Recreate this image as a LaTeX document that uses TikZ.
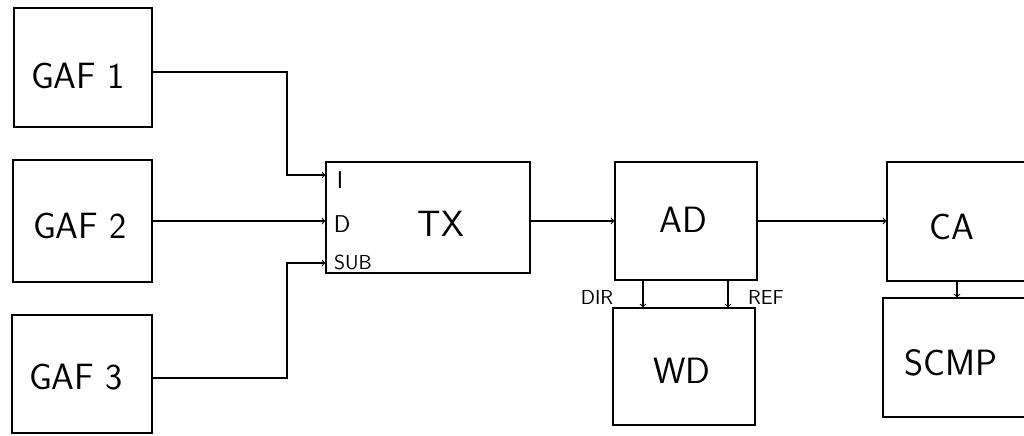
\documentclass[tikz,border=0pt]{standalone}
\usepackage{tikz}

\tikzset{
  blk/.style={draw,thick,inner sep=0pt},
  txt/.style={font=\sffamily\fontsize{26}{30}\selectfont,inner sep=0pt},
  pin/.style={font=\sffamily\LARGE,inner sep=1pt},
  tag/.style={font=\sffamily\Large,inner sep=1pt},
  wire/.style={thick,->}
}

\begin{document}
\begin{tikzpicture}[x=0.025cm,y=-0.025cm]
  \clip (0,0) rectangle (1024,435);

  %generators
  \node[blk,minimum width=3.45cm,minimum height=2.975cm] (gaf1) at (83,67.5) {};
  \node[blk,minimum width=3.475cm,minimum height=3.05cm] (gaf2) at (82.5,221) {};
  \node[blk,minimum width=3.5cm,minimum height=2.95cm] (gaf3) at (82,374) {};
  \node[txt] (gaf1t) at (78,76) {GAF 1};
  \node[txt] (gaf2t) at (80,226) {GAF 2};
  \node[txt] (gaf3t) at (76,377) {GAF 3};

  %transmitter
  \node[blk,minimum width=5.1cm,minimum height=2.775cm] (tx) at (428,217.5) {};
  \node[txt] (txt) at (441,224) {TX};
  \node[pin] (pinI) at (340,180) {I};
  \node[pin] (pinD) at (342,224) {D};
  \node[tag] (pinSub) at (353,262) {SUB};

  %right side
  \node[blk,minimum width=3.55cm,minimum height=2.95cm] (ad) at (686,221) {};
  \node[blk,minimum width=3.55cm,minimum height=2.925cm] (wd) at (684,366.5) {};
  \node[blk,minimum width=3.75cm,minimum height=2.975cm] (ca) at (962,221.5) {};
  \node[blk,minimum width=3.85cm,minimum height=2.975cm] (scmp) at (960,357.5) {};
  \node[txt] (adt) at (683,220) {AD};
  \node[txt] (wdt) at (682,371) {WD};
  \node[txt] (cat) at (952,227) {CA};
  \node[txt] (scmpt) at (951,363) {SCMP};

  %levels
  \coordinate (yI) at (0,175);
  \coordinate (yD) at (0,221);
  \coordinate (yS) at (0,263);
  \coordinate (bendA) at (287,72);
  \coordinate (bendB) at (287,378);
  \coordinate (xDir) at (643,0);
  \coordinate (xRef) at (728,0);
  \coordinate (xSc) at (957,0);

  %wires
  \draw[wire] (gaf1.east |- bendA) -- (bendA) -- (bendA |- yI) -- (tx.west |- yI);
  \draw[wire] (gaf2.east |- yD) -- (tx.west |- yD);
  \draw[wire] (gaf3.east |- bendB) -- (bendB) -- (bendB |- yS) -- (tx.west |- yS);
  \draw[wire] (tx.east |- yD) -- (ad.west |- yD);
  \draw[wire] (ad.east |- yD) -- (ca.west |- yD);
  \draw[wire] (ad.south -| xDir) -- (wd.north -| xDir);
  \draw[wire] (ad.south -| xRef) -- (wd.north -| xRef);
  \draw[wire] (ca.south -| xSc) -- (scmp.north -| xSc);

  \node[tag] (dir) at (597,297) {DIR};
  \node[tag] (ref) at (766,297) {REF};
\end{tikzpicture}
\end{document}
